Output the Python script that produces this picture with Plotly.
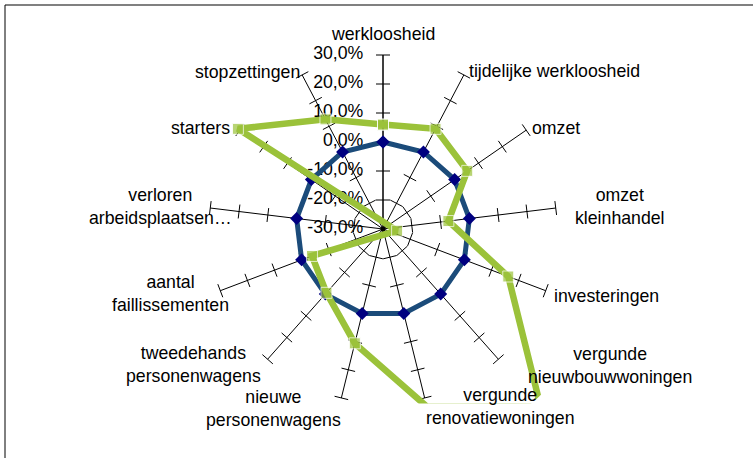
import plotly.graph_objects as go

W, H = 753, 458

categories = [
    "werkloosheid", "tijdelijke werkloosheid", "omzet", "omzet kleinhandel",
    "investeringen", "vergunde nieuwbouwwoningen", "vergunde renovatiewoningen",
    "nieuwe personenwagens", "tweedehands personenwagens", "aantal faillissementen",
    "verloren arbeidsplaatsen…", "starters", "stopzettingen",
]
label_text = [
    "werkloosheid", "tijdelijke werkloosheid", "omzet", "omzet<br>kleinhandel",
    "investeringen", "vergunde<br>nieuwbouwwoningen", "vergunde<br>renovatiewoningen",
    "nieuwe<br>personenwagens", "tweedehands<br>personenwagens", "aantal<br>faillissementen",
    "verloren<br>arbeidsplaatsen…", "starters", "stopzettingen",
]
blue_values = [0, 0, 0, 0, 0, 0, 0, 0, 0, 0, 0, 0, 0]
green_values = [6, 9, 5.3, -7.3, 16.2, 52, 33, 10.6, -0.6, -3.8, -34.9, 30.8, 12.7]
tick_values = [-30, -20, -10, 0, 10, 20, 30]
tick_labels = ["-30,0%", "-20,0%", "-10,0%", "0,0%", "10,0%", "20,0%", "30,0%"]

FONT = "Liberation Sans, Arial, sans-serif"
FS = 17.7
cx, cy, R = 383, 229, 174          # centre / radius of the -30..30 scale (px)
RMIN, RMAX = tick_values[0], tick_values[-1]
n = len(categories)

def px(x):
    return x / W

def py(y):
    return 1 - y / H

# outer polar for the series: same centre, bigger radius (so lines are not cut at 30%)
R2 = cy
r2_max = RMIN + (RMAX - RMIN) * R2 / R

# angle of each category (degrees, clockwise from top)
cat_angle = [i * 360.0 / n for i in range(n)]

def excel_radar(vals):
    """Excel draws values below the axis minimum through the centre."""
    th, rr = [], []
    for a, v in zip(cat_angle, vals):
        if v < RMIN:
            th.append(a + 180)
            rr.append(2 * RMIN - v)
        else:
            th.append(a)
            rr.append(v)
    return th + th[:1], rr + rr[:1]

fig = go.Figure()

# tick crosses on every spoke
tk_theta, tk_r, tk_ang = [], [], []
for i, c in enumerate(categories):
    for t in tick_values[1:]:
        tk_theta.append(c)
        tk_r.append(t)
        tk_ang.append(cat_angle[i])
fig.add_trace(go.Scatterpolar(
    r=tk_r, theta=tk_theta, mode="markers", hoverinfo="skip", showlegend=False,
    marker=dict(symbol="line-ew", size=10, angle=tk_ang,
                line=dict(color="black", width=1)),
))
fig.add_trace(go.Scatterpolar(
    r=[RMIN], theta=[categories[0]], mode="markers", hoverinfo="skip",
    showlegend=False, marker=dict(symbol="circle", size=5, color="black"),
))
# radial value labels
pad = "\u00a0" * 4
fig.add_trace(go.Scatterpolar(
    r=tick_values, theta=[categories[0]] * len(tick_values), mode="text",
    text=[t + pad for t in tick_labels], textposition="middle left",
    cliponaxis=False, hoverinfo="skip", showlegend=False,
    textfont=dict(size=FS, family=FONT, color="black"),
))

bth, br = excel_radar(blue_values)
fig.add_trace(go.Scatterpolar(
    r=br, theta=bth, subplot="polar2", mode="lines+markers", showlegend=False,
    line=dict(color="#1B4B7A", width=5),
    marker=dict(symbol="diamond", size=10, color="#000080"),
))
gth, gr = excel_radar(green_values)
green_sizes = [11 if v <= 31 else 0 for v in green_values]
fig.add_trace(go.Scatterpolar(
    r=gr, theta=gth, subplot="polar2", mode="lines+markers", showlegend=False,
    cliponaxis=False,
    line=dict(color="#9BC23A", width=6.5),
    marker=dict(symbol="square", size=green_sizes + green_sizes[:1], color="#9BC23A"),
))

fig.update_layout(
    width=W, height=H, margin=dict(l=0, r=0, t=0, b=0),
    paper_bgcolor="white", separators=",.",
    font=dict(family=FONT, size=FS, color="black"),
    polar=dict(
        domain=dict(x=[px(cx - R), px(cx + R)], y=[py(cy + R), py(cy - R)]),
        bgcolor="rgba(0,0,0,0)",
        radialaxis=dict(range=[RMIN, RMAX], angle=90, showgrid=False, showline=True,
                        linecolor="black", linewidth=1, showticklabels=False, ticks=""),
        angularaxis=dict(direction="clockwise", rotation=90, showticklabels=False,
                         ticks="", showline=False, showgrid=True,
                         gridcolor="black", gridwidth=1,
                         categoryorder="array", categoryarray=categories),
    ),
    polar2=dict(
        domain=dict(x=[px(cx - R2), px(cx + R2)], y=[py(cy + R2), py(cy - R2)]),
        bgcolor="rgba(0,0,0,0)",
        radialaxis=dict(range=[RMIN, r2_max], visible=False),
        angularaxis=dict(direction="clockwise", rotation=90, thetaunit="degrees",
                         type="linear", visible=False),
    ),
)

# category labels (Excel-style placement)
label_pos = [
    (383, 34, "center"), (467, 71, "left"), (530, 128, "left"), (620, 206, "center"),
    (552, 296, "left"), (610, 365, "center"), (500, 406, "center"), (273, 408, "center"),
    (193, 364, "center"), (170, 293, "center"), (160, 206, "center"), (232, 128, "right"),
    (302, 72, "right"),
]
for txt, (x, y, al) in zip(label_text, label_pos):
    fig.add_annotation(x=px(x), y=py(y), xref="paper", yref="paper", text=txt,
                       showarrow=False, xanchor=al, yanchor="middle", align="center",
                       font=dict(size=FS, family=FONT, color="black"))

# plot-area clipping edge, and chart border
fig.add_shape(type="rect", xref="paper", yref="paper", x0=px(395), x1=px(620),
              y0=py(440), y1=py(403.5), fillcolor="white", line=dict(width=0), layer="above")
fig.add_shape(type="line", xref="paper", yref="paper", x0=px(5), x1=1, y0=py(5), y1=py(5),
              line=dict(color="#808080", width=2), layer="above")
fig.add_shape(type="line", xref="paper", yref="paper", x0=px(5), x1=px(5), y0=py(5), y1=0,
              line=dict(color="black", width=1), layer="above")

fig.write_html("out.html", config={"displayModeBar": False},
               post_script="document.body.style.margin='0';")
